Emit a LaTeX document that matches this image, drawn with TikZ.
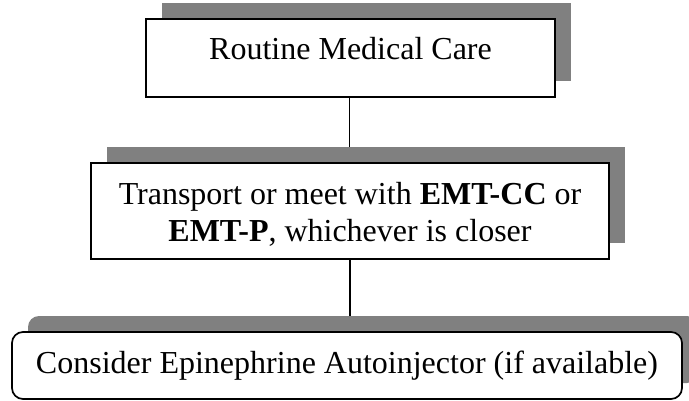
\documentclass[tikz,border=0pt]{standalone}
\usepackage{fontspec}
\setmainfont{Liberation Serif}
\usetikzlibrary{shadows}
\pgfdeclarelayer{background}
\pgfsetlayers{background,main}
\definecolor{shadowgray}{HTML}{808080}
\tikzset{
  flowbox/.style={draw=black, line width=1.7pt, fill=white, inner sep=0pt,
    font=\fontsize{32}{37}\selectfont,
    drop shadow={shadow xshift=16pt, shadow yshift=16pt, fill=shadowgray, opacity=1}},
  link/.style={draw=black, line width=1.3pt}
}
\begin{document}
\begin{tikzpicture}[x=1pt,y=-1pt]
\useasboundingbox (0,0) rectangle (689,401);
\clip (0,0) rectangle (689,401);
\node[flowbox, minimum width=409pt, text height=41pt, text depth=37pt, anchor=base]
  (b1) at (350.5,60) {Routine Medical Care};
\node[flowbox, minimum width=518pt, minimum height=96pt, align=center]
  (b2) at (350,211) {\rule{0pt}{28pt}Transport or meet with \textbf{EMT-CC} or\\\textbf{EMT-P}, whichever is closer};
\node[flowbox, rounded corners=11pt, minimum width=670pt, minimum height=67pt]
  (b3) at (347,365.5) {Consider Epinephrine Autoinjector (if available)};
\begin{pgfonlayer}{background}
\draw[link] (349.7,0 |- b1.south) -- (349.7,0 |- b2.north);
\draw[link] (350,0 |- b2.south) -- (350,0 |- b3.north);
\end{pgfonlayer}
\end{tikzpicture}
\end{document}
